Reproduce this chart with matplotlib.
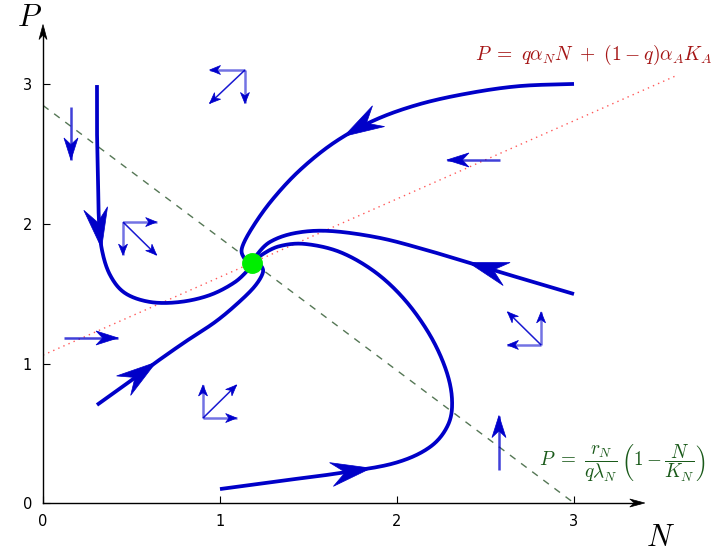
import numpy as np
import matplotlib.pyplot as plt
from matplotlib.patches import Polygon

plt.rcParams['mathtext.fontset'] = 'cm'

# Equilibrium point and the two nullclines
eq_point = (1.18, 1.72)
red_intercept, red_slope = 1.06, 0.56
green_intercept, green_root = 2.85, 3.0

# Trajectories (N, P) in the phase plane
traj_a = [(0.305, 2.996), (0.305, 2.674), (0.311, 2.315), (0.316, 2.029), (0.333, 1.814),
          (0.379, 1.634), (0.463, 1.505), (0.605, 1.441), (0.774, 1.441), (0.944, 1.491),
          (1.085, 1.584), (1.169, 1.685)]
traj_b = [(3.0, 3.004), (2.695, 2.989), (2.412, 2.939), (2.130, 2.860), (1.876, 2.746),
          (1.650, 2.588), (1.452, 2.387), (1.294, 2.172), (1.181, 1.971), (1.124, 1.828),
          (1.136, 1.756), (1.169, 1.713)]
traj_c = [(3.0, 1.498), (2.751, 1.591), (2.469, 1.699), (2.186, 1.806), (1.904, 1.900),
          (1.621, 1.950), (1.424, 1.935), (1.282, 1.871), (1.203, 1.771), (1.181, 1.720)]
traj_d = [(1.0, 0.100), (1.339, 0.158), (1.678, 0.215), (1.989, 0.287), (2.186, 0.401),
          (2.288, 0.559), (2.311, 0.738), (2.277, 0.953), (2.186, 1.204), (2.045, 1.455),
          (1.876, 1.656), (1.678, 1.799), (1.480, 1.857), (1.339, 1.842), (1.243, 1.785),
          (1.192, 1.728)]
traj_e = [(0.305, 0.703), (0.463, 0.846), (0.633, 1.004), (0.802, 1.154), (0.972, 1.297),
          (1.102, 1.434), (1.198, 1.556), (1.243, 1.656), (1.226, 1.713)]
trajectories = [traj_a, traj_b, traj_c, traj_d, traj_e]
# where the big direction heads sit on each trajectory
arrow_tips = [(0.322, 1.828), (1.695, 2.638), (2.401, 1.713), (1.859, 0.244), (0.633, 1.011)]

# Direction field samples: origin, dN, dP
field_origins = [(1.141, 3.104), (0.452, 2.014), (0.158, 2.839), (2.582, 2.459),
                 (0.119, 1.183), (0.904, 0.609), (2.814, 1.133), (2.576, 0.237)]
field_dn = [-0.20, 0.19, 0.0, -0.30, 0.305, 0.19, -0.19, 0.0]
field_dp = [-0.24, -0.237, -0.38, 0.0, 0.0, 0.237, 0.237, 0.39]

x_ticks = [0, 1, 2, 3]
y_ticks = [0, 1, 2, 3]

TRAJ_COLOR = '#0000c8'
FIELD_COLOR = '#0000cc'


def catmull_rom(points, n=30):
    pts = np.asarray(points, dtype=float)
    pts = np.vstack([pts[0], pts, pts[-1]])
    out = []
    for i in range(1, len(pts) - 2):
        p0, p1, p2, p3 = pts[i - 1], pts[i], pts[i + 1], pts[i + 2]
        t = np.linspace(0, 1, n, endpoint=False)[:, None]
        seg = 0.5 * ((2 * p1) + (-p0 + p2) * t + (2 * p0 - 5 * p1 + 4 * p2 - p3) * t ** 2
                     + (-p0 + 3 * p1 - 3 * p2 + p3) * t ** 3)
        out.append(seg)
    out.append(pts[-2][None, :])
    return np.vstack(out)


def stealth_head(ax, tip, direction, length, width, color, notch=0.3, zorder=5):
    # head built in pixel space so it keeps its shape regardless of axis scaling
    to_px = ax.transData
    tip_px = to_px.transform(tip)
    ref_px = to_px.transform(direction)
    u = tip_px - ref_px
    u = u / np.hypot(*u)
    nrm = np.array([-u[1], u[0]])
    verts = [tip_px,
             tip_px - length * u + 0.5 * width * nrm,
             tip_px - (1 - notch) * length * u,
             tip_px - length * u - 0.5 * width * nrm]
    verts = to_px.inverted().transform(np.array(verts))
    ax.add_patch(Polygon(verts, closed=True, facecolor=color, edgecolor=color,
                         lw=0.5, zorder=zorder, clip_on=False))


def field_arrow(ax, x0, y0, dx, dy, lw, alpha, head_len, head_w):
    ax.plot([x0, x0 + dx], [y0, y0 + dy], color=FIELD_COLOR, lw=lw, alpha=alpha,
            solid_capstyle='butt', zorder=3)
    stealth_head(ax, (x0 + dx, y0 + dy), (x0, y0), head_len, head_w, FIELD_COLOR, zorder=4)


fig = plt.figure(figsize=(7.13, 5.56), dpi=100)
x_max, y_max = 3.75, 3.6
ax = fig.add_axes([43 / 713, 53 / 556, 177 * x_max / 713, 139.5 * y_max / 556])
ax.set_xlim(0, x_max)
ax.set_ylim(0, y_max)
for s in ax.spines.values():
    s.set_visible(False)

ax.set_xticks(x_ticks)
ax.set_yticks(y_ticks)
ax.tick_params(direction='in', length=5, width=0.8, labelsize=10.5, pad=8)

# axis lines with arrow heads
ax.plot([0, 3.37], [0, 0], color='black', lw=1, clip_on=False, zorder=2)
ax.plot([0, 0], [0, 3.40], color='black', lw=1, clip_on=False, zorder=2)
stealth_head(ax, (3.40, 0), (0, 0), 15, 8, 'black')
stealth_head(ax, (0, 3.43), (0, 0), 15, 8, 'black')
ax.text(-0.075, 3.48, r'$P$', fontsize=22, ha='center', va='center')
ax.text(3.49, -0.245, r'$N$', fontsize=22, ha='center', va='center')

# nullclines
n_red = np.linspace(0, 3.58, 100)
ax.plot(n_red, red_intercept + red_slope * n_red, color='#ff3030', lw=1, ls=(0, (1, 3)),
        alpha=0.8, zorder=1)
n_green = np.linspace(0, green_root, 100)
ax.plot(n_green, green_intercept * (1 - n_green / green_root), color='#557755', lw=1,
        ls=(0, (5, 5)), zorder=1)

ax.text(2.44, 3.21, r'$P\ =\ q\alpha_N N\ +\ (1-q)\alpha_A K_A$', color='#a51515',
        fontsize=14.1, ha='left', va='center')
ax.text(2.805, 0.29,
        r'$P\ =\ \dfrac{r_N}{q\lambda_N}\,\left(1 - \dfrac{N}{K_N}\right)$',
        color='#1a5a1a', fontsize=13.8, ha='left', va='center')

# trajectories with direction heads
for traj, tip in zip(trajectories, arrow_tips):
    curve = catmull_rom(traj)
    ax.plot(curve[:, 0], curve[:, 1], color=TRAJ_COLOR, lw=2.7, zorder=3,
            solid_capstyle='butt')
    d = np.hypot(curve[:, 0] - tip[0], curve[:, 1] - tip[1])
    k = int(np.argmin(d))
    k_prev = max(k - 8, 0)
    stealth_head(ax, curve[k], curve[k_prev], 40, 24, TRAJ_COLOR, notch=0.35)

# direction field
for (x0, y0), dn, dp in zip(field_origins, field_dn, field_dp):
    if dn != 0 and dp != 0:
        field_arrow(ax, x0, y0, dn, 0, 1.8, 0.55, 11, 9)
        field_arrow(ax, x0, y0, 0, dp, 1.8, 0.55, 11, 9)
        field_arrow(ax, x0, y0, dn, dp, 1.1, 0.9, 11, 9)
    else:
        field_arrow(ax, x0, y0, dn, dp, 1.8, 0.75, 22, 14)

ax.plot(*eq_point, 'o', color='#00ee00', markersize=14, zorder=6)

fig.savefig('out.png', dpi=100)
